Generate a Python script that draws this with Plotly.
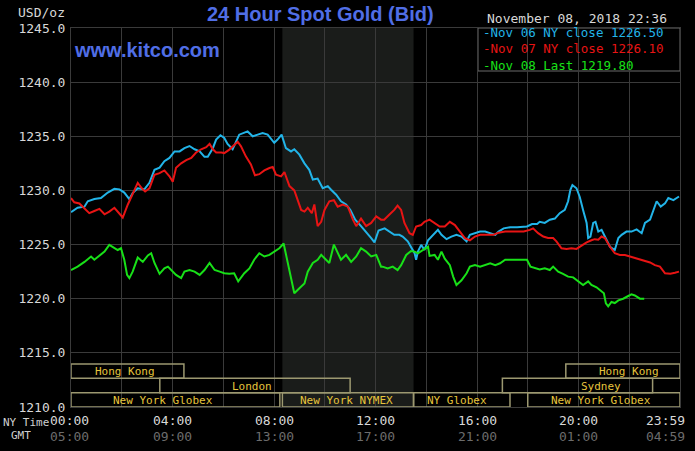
import plotly.graph_objects as go

# ---------------- data ----------------
hours_nov06 = [0.00, 0.26, 0.53, 0.66, 0.92, 1.18, 1.45, 1.71, 1.91, 2.10, 2.30, 2.43, 2.63, 2.89, 3.09, 3.29,
               3.49, 3.68, 3.88, 4.08, 4.28, 4.47, 4.67, 4.87, 5.07, 5.26, 5.39, 5.59, 5.72, 5.89, 6.04, 6.17,
               6.37, 6.63, 6.96, 7.16, 7.36, 7.55, 7.75, 8.01, 8.14, 8.30, 8.47, 8.67, 8.80, 9.00, 9.20, 9.39,
               9.53, 9.72, 9.92, 10.12, 10.25, 10.45, 10.64, 10.84, 11.01, 11.20, 11.43, 11.63, 11.83, 11.96,
               12.12, 12.36, 12.54, 12.74, 12.94, 13.07, 13.27, 13.40, 13.54, 13.60, 13.67, 13.80, 13.93, 14.07,
               14.26, 14.46, 14.60, 14.80, 14.99, 15.19, 15.39, 15.59, 15.72, 15.92, 16.12, 16.32, 16.52, 16.72,
               16.85, 17.05, 17.31, 17.58, 17.97, 18.17, 18.37, 18.47, 18.67, 18.87, 19.07, 19.26, 19.46, 19.59,
               19.68, 19.76, 19.92, 20.05, 20.18, 20.32, 20.38, 20.47, 20.58, 20.67, 20.78, 20.91, 21.04, 21.24,
               21.43, 21.57, 21.70, 21.89, 22.09, 22.29, 22.49, 22.62, 22.82, 22.97, 23.08, 23.24, 23.41, 23.54,
               23.74, 23.87, 23.96]
price_nov06 = [1228.0, 1228.4, 1228.5, 1229.0, 1229.2, 1229.3, 1229.8, 1230.15, 1230.1, 1229.8, 1229.2, 1229.75,
               1230.2, 1230.1, 1230.7, 1231.9, 1232.1, 1232.7, 1233.0, 1233.6, 1233.6, 1233.9, 1234.1, 1233.8,
               1233.6, 1233.1, 1233.1, 1233.9, 1234.7, 1235.1, 1234.85, 1234.3, 1233.8, 1235.15, 1235.45, 1235.0,
               1235.15, 1235.3, 1235.15, 1234.4, 1234.7, 1235.15, 1233.9, 1233.6, 1233.8, 1233.3, 1232.5, 1231.9,
               1231.0, 1231.1, 1230.2, 1230.4, 1230.06, 1229.6, 1229.0, 1228.7, 1228.2, 1227.3, 1226.7, 1226.2,
               1225.6, 1225.2, 1226.3, 1226.5, 1226.2, 1225.9, 1225.9, 1225.74, 1225.3, 1224.8, 1224.2, 1223.6,
               1224.35, 1224.97, 1224.5, 1225.4, 1225.9, 1226.36, 1225.9, 1225.5, 1225.74, 1225.9, 1225.74, 1225.3,
               1225.9, 1226.05, 1226.2, 1226.2, 1226.05, 1225.9, 1226.2, 1226.5, 1226.6, 1226.6, 1226.67, 1226.9,
               1226.9, 1227.1, 1227.0, 1227.3, 1227.4, 1227.9, 1228.2, 1229.0, 1230.06, 1230.5, 1230.2, 1229.4,
               1228.2, 1227.0, 1225.6, 1225.74, 1227.0, 1227.1, 1226.2, 1226.36, 1225.74, 1224.8, 1224.5, 1225.6,
               1225.9, 1226.2, 1226.2, 1226.4, 1226.05, 1227.0, 1227.3, 1228.2, 1229.0, 1228.5, 1228.8, 1229.3,
               1229.1, 1229.3, 1229.44]

hours_nov07 = [0.00, 0.13, 0.33, 0.53, 0.72, 0.92, 1.12, 1.32, 1.51, 1.71, 1.84, 2.04, 2.24, 2.43, 2.63, 2.79,
               2.92, 3.09, 3.29, 3.49, 3.68, 3.88, 4.01, 4.14, 4.34, 4.54, 4.74, 4.93, 5.13, 5.33, 5.46, 5.59,
               5.72, 5.92, 6.04, 6.24, 6.43, 6.57, 6.70, 6.89, 7.09, 7.25, 7.42, 7.62, 7.82, 7.95, 8.08, 8.28,
               8.41, 8.61, 8.80, 8.93, 9.07, 9.20, 9.33, 9.49, 9.59, 9.72, 9.86, 9.99, 10.18, 10.36, 10.51, 10.71,
               10.91, 11.11, 11.24, 11.43, 11.63, 11.83, 12.03, 12.22, 12.34, 12.54, 12.74, 12.87, 13.01, 13.14,
               13.34, 13.47, 13.60, 13.80, 13.93, 14.13, 14.33, 14.53, 14.73, 14.93, 15.13, 15.32, 15.52, 15.72,
               15.92, 16.12, 16.38, 16.65, 16.85, 17.11, 17.44, 17.84, 18.08, 18.21, 18.41, 18.61, 18.80, 19.00,
               19.13, 19.33, 19.53, 19.72, 19.92, 20.12, 20.32, 20.51, 20.64, 20.78, 20.91, 21.04, 21.24, 21.43,
               21.63, 21.83, 22.03, 22.22, 22.42, 22.62, 22.82, 23.01, 23.21, 23.41, 23.62, 23.80, 23.96]
price_nov07 = [1229.3, 1228.9, 1228.8, 1228.3, 1227.9, 1228.1, 1228.3, 1227.8, 1228.05, 1228.4, 1228.05, 1227.5,
               1228.7, 1229.6, 1230.7, 1230.2, 1229.9, 1230.2, 1231.45, 1231.6, 1231.85, 1231.3, 1230.8, 1232.1,
               1232.5, 1232.8, 1233.0, 1233.5, 1233.8, 1234.0, 1234.3, 1233.8, 1233.5, 1233.5, 1233.45, 1233.77,
               1234.2, 1234.5, 1234.07, 1233.15, 1232.4, 1231.4, 1231.5, 1231.85, 1232.07, 1232.16, 1231.45,
               1231.3, 1231.7, 1230.4, 1230.0, 1229.1, 1228.2, 1228.05, 1228.4, 1227.9, 1228.7, 1226.7, 1227.1,
               1228.2, 1229.0, 1229.1, 1228.5, 1228.7, 1228.5, 1227.3, 1226.7, 1227.4, 1226.7, 1227.0, 1227.6,
               1227.3, 1227.3, 1227.75, 1228.2, 1228.6, 1228.2, 1227.0, 1226.05, 1225.9, 1226.67, 1226.8, 1227.1,
               1227.3, 1227.0, 1226.67, 1226.67, 1227.1, 1226.8, 1226.2, 1225.6, 1225.4, 1225.74, 1225.9, 1225.9,
               1225.9, 1226.1, 1226.2, 1226.2, 1226.2, 1226.36, 1226.5, 1226.05, 1225.74, 1225.6, 1225.6, 1225.3,
               1224.66, 1224.6, 1224.66, 1224.6, 1224.9, 1225.2, 1225.4, 1225.5, 1225.45, 1225.74, 1225.6, 1224.8,
               1224.2, 1224.04, 1224.04, 1223.9, 1223.73, 1223.6, 1223.5, 1223.35, 1223.1, 1222.96, 1222.35,
               1222.3, 1222.4, 1222.5]

hours_nov08 = [0.00, 0.26, 0.53, 0.79, 0.92, 1.12, 1.32, 1.51, 1.71, 1.84, 1.97, 2.10, 2.21, 2.30, 2.43, 2.63,
               2.83, 3.03, 3.16, 3.29, 3.49, 3.68, 3.82, 4.01, 4.14, 4.34, 4.47, 4.67, 4.87, 5.07, 5.26, 5.46,
               5.66, 5.86, 6.04, 6.24, 6.43, 6.59, 6.83, 7.03, 7.22, 7.42, 7.62, 7.82, 8.01, 8.21, 8.38, 8.54,
               8.67, 8.80, 9.00, 9.20, 9.33, 9.53, 9.72, 9.86, 10.05, 10.18, 10.36, 10.51, 10.64, 10.84, 11.04,
               11.24, 11.43, 11.63, 11.83, 12.03, 12.22, 12.28, 12.48, 12.68, 12.87, 13.01, 13.21, 13.40, 13.54,
               13.67, 13.87, 14.07, 14.13, 14.33, 14.46, 14.60, 14.73, 14.93, 15.06, 15.19, 15.39, 15.59, 15.72,
               15.92, 16.12, 16.32, 16.52, 16.72, 16.91, 17.11, 17.44, 17.97, 18.11, 18.37, 18.47, 18.67, 18.87,
               19.00, 19.20, 19.39, 19.59, 19.79, 19.99, 20.18, 20.38, 20.51, 20.71, 20.91, 21.00, 21.08, 21.17,
               21.30, 21.43, 21.57, 21.76, 21.96, 22.09, 22.22, 22.42, 22.59]
price_nov08 = [1222.65, 1222.96, 1223.4, 1223.9, 1223.6, 1224.0, 1224.35, 1224.97, 1224.66, 1224.5, 1224.66,
               1223.6, 1222.2, 1221.9, 1222.5, 1223.8, 1223.4, 1224.0, 1224.2, 1223.3, 1222.3, 1222.8, 1222.96,
               1222.5, 1222.2, 1221.9, 1222.5, 1222.65, 1222.5, 1222.2, 1222.65, 1223.3, 1222.65, 1222.5,
               1222.35, 1222.3, 1222.35, 1221.6, 1222.35, 1222.8, 1223.6, 1224.2, 1223.9, 1224.05, 1224.35,
               1224.66, 1225.1, 1223.3, 1221.7, 1220.5, 1220.96, 1221.4, 1222.5, 1223.3, 1223.6, 1224.05, 1223.6,
               1223.3, 1225.0, 1224.2, 1223.6, 1224.05, 1223.4, 1223.9, 1224.66, 1224.35, 1223.9, 1224.05,
               1222.96, 1222.96, 1222.8, 1222.96, 1222.65, 1223.1, 1224.04, 1224.4, 1224.35, 1224.2, 1224.5,
               1224.8, 1223.95, 1224.04, 1223.6, 1224.35, 1223.7, 1223.1, 1222.04, 1221.27, 1221.7, 1222.35,
               1222.96, 1223.1, 1222.96, 1223.1, 1223.27, 1223.1, 1223.27, 1223.6, 1223.6, 1223.6, 1222.96,
               1222.8, 1222.7, 1222.8, 1222.65, 1222.96, 1222.5, 1222.3, 1222.04, 1221.97, 1221.6, 1221.27,
               1221.6, 1221.27, 1221.05, 1220.65, 1220.5, 1219.57, 1219.3, 1219.7, 1219.6, 1219.85, 1220.0,
               1220.25, 1220.4, 1220.3, 1220.0, 1220.0]

series_names = ["Nov 06 NY close 1226.50", "Nov 07 NY close 1226.10", "Nov 08 Last 1219.80"]

# trading sessions: name, start hour, end hour, row (0 = top)
session_names = ["Hong Kong", "Hong Kong", "London", "Sydney",
                 "New York Globex", "New York NYMEX", "NY Globex", "New York Globex"]
session_start = [0.0, 19.5, 3.5, 17.0, 0.0, 8.33, 13.5, 18.0]
session_end = [4.45, 24.0, 11.0, 22.92, 8.23, 13.5, 17.3, 24.0]
session_row = [0, 0, 1, 1, 2, 2, 2, 2]

nymex_start, nymex_end = 8.33, 13.5

ny_tick_hours = [0, 4, 8, 12, 16, 20, 24]
ny_tick_text = ["00:00", "04:00", "08:00", "12:00", "16:00", "20:00", "23:59"]
gmt_tick_text = ["05:00", "09:00", "13:00", "17:00", "21:00", "01:00", "04:59"]

# ---------------- styling ----------------
W, H = 695, 451
L, R, T, B = 71, 680, 28, 407
MONO = "DejaVu Sans Mono"
SANS = "Liberation Sans, Arial"
line_colors = ["#22b4e8", "#e81414", "#18e018"]
grid = "#3a3a3a"


def px(x):
    return (x - L) / (R - L)


def py(y):
    return (B - y) / (B - T)


fig = go.Figure()
for hx, pv, nm, col in zip([hours_nov06, hours_nov07, hours_nov08],
                           [price_nov06, price_nov07, price_nov08], series_names, line_colors):
    fig.add_trace(go.Scatter(x=hx, y=pv, mode="lines", name=nm,
                             line=dict(color=col, width=2), showlegend=False, hoverinfo="skip"))

shapes = []
# NYMEX shading
shapes.append(dict(type="rect", xref="x", yref="y", x0=nymex_start, x1=nymex_end, y0=1210, y1=1245,
                   fillcolor="#1a1c1a", line=dict(width=0), layer="below"))

# session boxes
row_top = 1213.97
row_h = 1.323
label_centers = [2.13, 22.0, 7.13, 20.9, 3.62, 10.87, 15.2, 20.9]
annotations = []
for nm, s, e, r, lc in zip(session_names, session_start, session_end, session_row, label_centers):
    y1 = row_top - r * row_h
    y0 = y1 - row_h
    shapes.append(dict(type="rect", xref="x", yref="y", x0=s, x1=e, y0=y0, y1=y1,
                       line=dict(color="#9c9870", width=1.5), fillcolor="rgba(0,0,0,0)", layer="above"))
    annotations.append(dict(xref="x", yref="y", x=lc, y=(y0 + y1) / 2, text=nm, showarrow=False,
                            xanchor="center", yanchor="middle", height=12,
                            font=dict(family=MONO, size=11, color="#e6c43c")))

# legend box (one multi-line text block)
shapes.append(dict(type="rect", xref="paper", yref="paper", x0=px(478), x1=1.0, y0=py(71), y1=1.0,
                   fillcolor="black", line=dict(color="#6a6a6a", width=1), layer="between"))
legend_text = "<br>".join(
    '<span style="color:%s">-%s</span>' % (col, nm) for nm, col in zip(series_names, line_colors))
annotations.append(dict(xref="paper", yref="paper", x=px(481), y=py(49), text=legend_text,
                        showarrow=False, xanchor="left", yanchor="middle", align="left",
                        font=dict(family=MONO, size=12.5, color=line_colors[0])))

# titles / labels
annotations += [
    dict(xref="paper", yref="paper", x=px(320), y=py(14), text="<b>24 Hour Spot Gold (Bid)</b>",
         showarrow=False, xanchor="center", yanchor="middle",
         font=dict(family=SANS, size=20, color="#506ee6")),
    dict(xref="paper", yref="paper", x=px(72), y=py(50), text="<b>www.kitco.com</b>",
         showarrow=False, xanchor="left", yanchor="middle",
         font=dict(family=SANS, size=20, color="#506ee6")),
    dict(xref="paper", yref="paper", x=px(67), y=py(13), text="USD/oz",
         showarrow=False, xanchor="right", yanchor="middle",
         font=dict(family=MONO, size=13, color="#d8d8d8")),
    dict(xref="paper", yref="paper", x=px(669), y=py(18), text="November 08, 2018 22:36",
         showarrow=False, xanchor="right", yanchor="middle",
         font=dict(family=MONO, size=13, color="#d8d8d8")),
    dict(xref="paper", yref="paper", x=px(1), y=py(421.5), text="NY Time",
         showarrow=False, xanchor="left", yanchor="middle", height=12,
         font=dict(family=MONO, size=11, color="#d0d0d0")),
    dict(xref="paper", yref="paper", x=px(9), y=py(435.5), text="GMT",
         showarrow=False, xanchor="left", yanchor="middle", height=12,
         font=dict(family=MONO, size=11, color="#d0d0d0")),
]
for h, t1, t2 in zip(ny_tick_hours, ny_tick_text, gmt_tick_text):
    if h == 0:
        xa, xp = "center", 69
    elif h == 24:
        xa, xp = "right", 687
    else:
        xa, xp = "center", None
    xv = px(xp) if xp is not None else h / 24
    annotations.append(dict(xref="paper", yref="paper", x=xv, y=py(420.5), text=t1, showarrow=False,
                            xanchor=xa, yanchor="middle", height=13,
                            font=dict(family=MONO, size=13, color="#d8d8d8")))
    annotations.append(dict(xref="paper", yref="paper", x=xv, y=py(436), text=t2, showarrow=False,
                            xanchor=xa, yanchor="middle", height=13,
                            font=dict(family=MONO, size=13, color="#6c6c6c")))

fig.update_layout(
    width=W, height=H,
    margin=dict(l=L, r=W - R, t=T, b=H - B, pad=0),
    paper_bgcolor="black", plot_bgcolor="black",
    showlegend=False,
    shapes=shapes, annotations=annotations,
    xaxis=dict(range=[0, 24], tickvals=list(range(0, 25, 2)), showticklabels=False,
               showgrid=True, gridcolor=grid, gridwidth=1, zeroline=False,
               showline=True, linecolor=grid, linewidth=1, mirror=True, ticks="", fixedrange=True),
    yaxis=dict(range=[1210, 1245], tick0=1210, dtick=5, tickformat=".1f",
               tickfont=dict(family=MONO, size=13, color="#d8d8d8"),
               showgrid=True, gridcolor=grid, gridwidth=1, zeroline=False,
               showline=True, linecolor=grid, linewidth=1, mirror=True, ticks="",
               ticklabelstandoff=2, fixedrange=True),
)

fig.write_html("out.html", config={"displayModeBar": False})
